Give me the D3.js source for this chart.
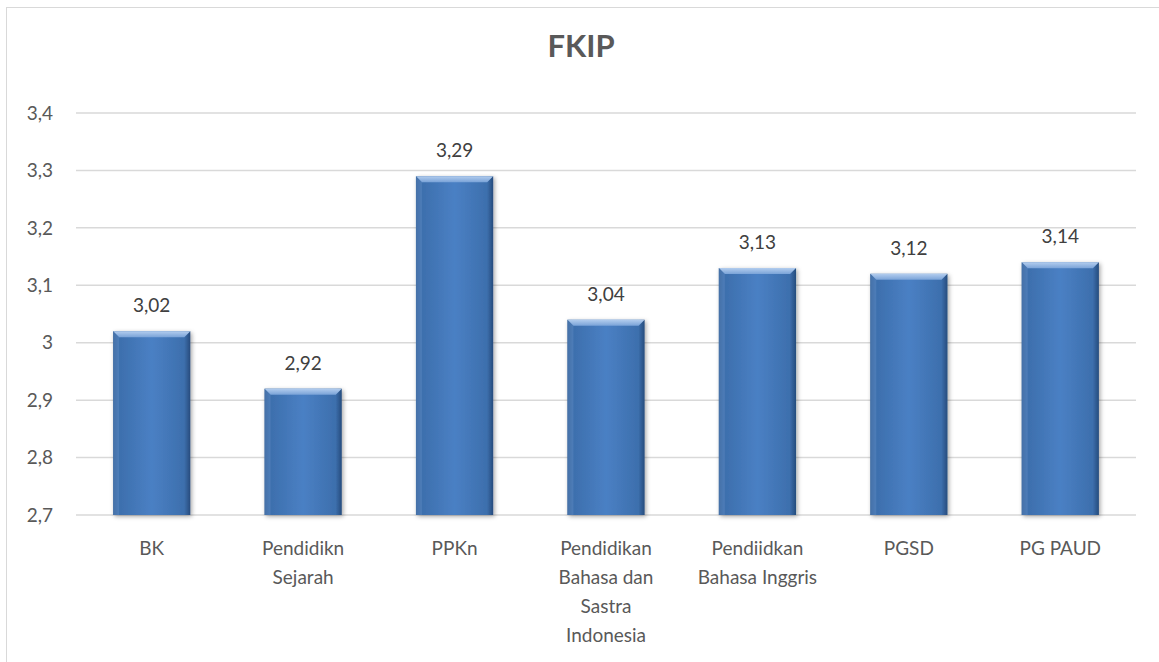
<!DOCTYPE html>
<html><head><meta charset="utf-8">
<script src="https://cdn.jsdelivr.net/npm/d3@7"></script>
<style>body{margin:0;background:#fff}svg{display:block}text{font-family:Lato,"Open Sans",sans-serif}</style>
</head><body>
<script>
const categories = [["BK"],["Pendidikn","Sejarah"],["PPKn"],["Pendidikan","Bahasa dan","Sastra","Indonesia"],["Pendiidkan","Bahasa Inggris"],["PGSD"],["PG PAUD"]];
const values = [3.02, 2.92, 3.29, 3.04, 3.13, 3.12, 3.14];
const yTicks = [2.7, 2.8, 2.9, 3.0, 3.1, 3.2, 3.3, 3.4];
const title = "FKIP";

const W = 1159, H = 662;
const svg = d3.select("body").append("svg").attr("width", W).attr("height", H);
const defs = svg.append("defs");
const g1 = defs.append("linearGradient").attr("id","barH").attr("x1","0").attr("x2","1").attr("y1","0").attr("y2","0");
[[0,"#2b5589"],[0.08,"#3d6fad"],[0.5,"#4a80c4"],[0.92,"#3d6fad"],[1,"#264c7d"]].forEach(([o,c])=>g1.append("stop").attr("offset",o).attr("stop-color",c));
const g2 = defs.append("linearGradient").attr("id","barTop").attr("x1","0").attr("x2","0").attr("y1","0").attr("y2","1");
[[0,"#b3cdee"],[1,"#7aa3d8"]].forEach(([o,c])=>g2.append("stop").attr("offset",o).attr("stop-color",c));
const f = defs.append("filter").attr("id","sh").attr("x","-20%").attr("y","-10%").attr("width","140%").attr("height","130%");
f.append("feDropShadow").attr("dx",1.5).attr("dy",1.5).attr("stdDeviation",2).attr("flood-color","#000").attr("flood-opacity",0.35);

// frame
svg.append("rect").attr("x",6.5).attr("y",7.5).attr("width",W+20).attr("height",H+20).attr("fill","none").attr("stroke","#d9d9d9").attr("stroke-width",1);

const x = d3.scaleBand().domain(d3.range(categories.length)).range([76,1136]).paddingInner(0.49).paddingOuter(0.245);
const y = d3.scaleLinear().domain([2.7,3.4]).range([515,113]);

svg.append("text").attr("x",581).attr("y",57).attr("text-anchor","middle").attr("font-size",31).attr("font-weight","bold").attr("fill","#595959").text(title);

// gridlines
svg.append("g").selectAll("line").data(yTicks).join("line")
  .attr("x1",76).attr("x2",1136).attr("y1",d=>y(d)).attr("y2",d=>y(d))
  .attr("stroke","#d9d9d9").attr("stroke-width",1.5);

svg.append("g").selectAll("text").data(yTicks).join("text")
  .attr("x",53).attr("y",d=>y(d)).attr("dy","0.35em").attr("text-anchor","end")
  .attr("font-size",19).attr("fill","#595959")
  .text(d=>d3.format(".1f")(d).replace(/\.0$/,"").replace(".",","));

// bars
const bars = svg.append("g").selectAll("g").data(values).join("g");
bars.append("rect").attr("x",(d,i)=>x(i)).attr("y",d=>y(d)).attr("width",x.bandwidth()).attr("height",d=>y(2.7)-y(d))
  .attr("fill","url(#barH)").attr("filter","url(#sh)");
bars.append("path").attr("d",(d,i)=>{const x0=x(i),x1=x(i)+x.bandwidth(),t=y(d),b=6;return `M${x0},${t}L${x1},${t}L${x1-b},${t+b}L${x0+b},${t+b}Z`;})
  .attr("fill","url(#barTop)");
bars.append("path").attr("d",(d,i)=>{const x0=x(i),t=y(d),b=6;return `M${x0},${t}L${x0+b},${t+b}L${x0+b},${y(2.7)}L${x0},${y(2.7)}Z`;})
  .attr("fill","#5d8bc6").attr("opacity",0.5);

svg.append("g").selectAll("text").data(values).join("text")
  .attr("x",(d,i)=>x(i)+x.bandwidth()/2).attr("y",d=>y(d)-19).attr("text-anchor","middle")
  .attr("font-size",19).attr("fill","#404040").text(d=>d3.format(".2f")(d).replace(".",","));

// x axis labels
const xl = svg.append("g").selectAll("text").data(categories).join("text")
  .attr("x",(d,i)=>x(i)+x.bandwidth()/2).attr("y",555).attr("text-anchor","middle")
  .attr("font-size",19).attr("fill","#595959");
xl.selectAll("tspan").data(d=>d).join("tspan")
  .attr("x",function(){return this.parentNode.getAttribute("x");}).attr("dy",(d,i)=>i?29:0).text(d=>d);
</script>
</body></html>
